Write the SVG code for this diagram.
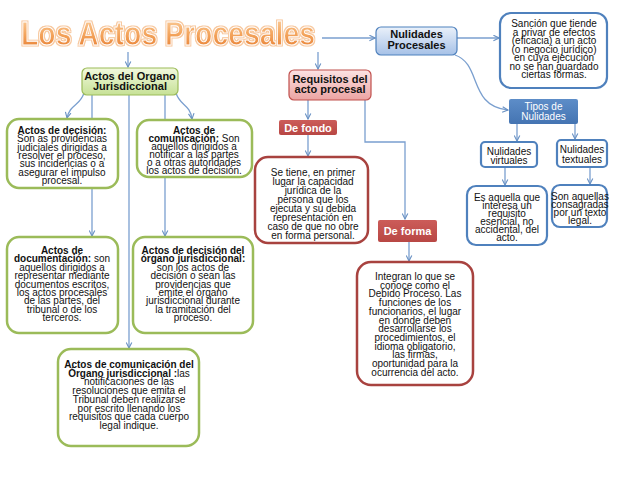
<svg xmlns="http://www.w3.org/2000/svg" width="638" height="493" viewBox="0 0 638 493">
<defs>
<linearGradient id="gOrange" x1="0" y1="0" x2="0" y2="1"><stop offset="0" stop-color="#fcd6a8"/><stop offset="0.5" stop-color="#f4a65f"/><stop offset="1" stop-color="#e5792b"/></linearGradient>
<linearGradient id="gGreen" x1="0" y1="0" x2="0" y2="1"><stop offset="0" stop-color="#f2f9de"/><stop offset="1" stop-color="#c6e196"/></linearGradient>
<linearGradient id="gPink" x1="0" y1="0" x2="0" y2="1"><stop offset="0" stop-color="#fce3e3"/><stop offset="1" stop-color="#eca3a2"/></linearGradient>
<linearGradient id="gBlue" x1="0" y1="0" x2="0" y2="1"><stop offset="0" stop-color="#eaf1fa"/><stop offset="1" stop-color="#a6c1e7"/></linearGradient>
<linearGradient id="gBlueDark" x1="0" y1="0" x2="0" y2="1"><stop offset="0" stop-color="#5d8dc8"/><stop offset="1" stop-color="#4474b2"/></linearGradient>
<linearGradient id="gRed" x1="0" y1="0" x2="0" y2="1"><stop offset="0" stop-color="#cc5c59"/><stop offset="1" stop-color="#b84744"/></linearGradient>
<filter id="glow" x="-10%" y="-30%" width="120%" height="160%">
<feMorphology in="SourceAlpha" operator="dilate" radius="1.3" result="d"/>
<feFlood flood-color="#f7c79c"/>
<feComposite in2="d" operator="in" result="o"/>
<feMerge><feMergeNode in="o"/><feMergeNode in="SourceGraphic"/></feMerge>
</filter>
<marker id="arr" viewBox="0 0 10 10" refX="9" refY="5" markerWidth="7" markerHeight="7" markerUnits="userSpaceOnUse" orient="auto">
<path d="M1,1 L9,5 L1,9" fill="none" stroke="#6a92c4" stroke-width="1.6"/>
</marker>
<style>
text{font-family:"Liberation Sans",Arial,sans-serif;fill:#111;text-anchor:middle}
.t{font-size:10px}
.h{font-size:11px;font-weight:bold}
.b{font-weight:bold}
.w{fill:#fff}
.con{fill:none;stroke:#7a9fcf;stroke-width:1.3}
.green{fill:#fff;stroke:#9bbb59;stroke-width:2.5}
.red{fill:#fff;stroke:#a8423f;stroke-width:2.5}
.blue{fill:#fff;stroke:#4f81bd;stroke-width:2.2}
</style>
</defs>
<rect width="638" height="493" fill="#fff"/>

<g id="title">
<text x="21" y="45" font-size="33" font-weight="bold" textLength="294" lengthAdjust="spacingAndGlyphs" style="text-anchor:start;fill:url(#gOrange);stroke:#fff;stroke-width:0.9" filter="url(#glow)">Los Actos Procesales</text>
</g>

<g id="connectors">
<path class="con" d="M322,38 H375" marker-end="url(#arr)"/>
<path class="con" d="M128,52 V67" marker-end="url(#arr)"/>
<path class="con" d="M318,52 V69" marker-end="url(#arr)"/>
<path class="con" d="M84,93 C80,106 70,104 67,118" marker-end="url(#arr)"/>
<path class="con" d="M176,93 C180,106 190,104 192,119" marker-end="url(#arr)"/>
<path class="con" d="M92,95 V236" marker-end="url(#arr)"/>
<path class="con" d="M165,95 V236" marker-end="url(#arr)"/>
<path class="con" d="M129,95 V348" marker-end="url(#arr)"/>
<path class="con" d="M308,100 V119" marker-end="url(#arr)"/>
<path class="con" d="M308,135 V156" marker-end="url(#arr)"/>
<path class="con" d="M365,100 V142 H405 V219" marker-end="url(#arr)"/>
<path class="con" d="M409,242 V261" marker-end="url(#arr)"/>
<path class="con" d="M457,38 H499" marker-end="url(#arr)"/>
<path class="con" d="M455,55 C482,64 468,106 508,110" marker-end="url(#arr)"/>
<path class="con" d="M517,124 V141" marker-end="url(#arr)"/>
<path class="con" d="M575,124 V139" marker-end="url(#arr)"/>
<path class="con" d="M505,167 V185" marker-end="url(#arr)"/>
<path class="con" d="M590,167 V184" marker-end="url(#arr)"/>
</g>

<g id="organo">
<rect x="82" y="68" width="96" height="27" rx="5" fill="url(#gGreen)" stroke="#9bbb59" stroke-width="1.2"/>
<text class="h" x="130" y="80">Actos del Organo</text>
<text class="h" x="130" y="90">Jurisdiccional</text>
</g>

<g id="decision">
<rect class="green" x="7" y="119" width="111" height="69" rx="12"/>
<text class="t" x="62" y="134"><tspan class="b">Actos de decisión:</tspan></text>
<text class="t" x="62" y="142.3">Son as providencias</text>
<text class="t" x="62" y="150.6">judiciales dirigidas a</text>
<text class="t" x="62" y="158.9">resolver el proceso,</text>
<text class="t" x="62" y="167.2">sus incidencias o a</text>
<text class="t" x="62" y="175.5">asegurar el impulso</text>
<text class="t" x="62" y="183.8">procesal.</text>
</g>

<g id="comunicacion">
<rect class="green" x="137" y="120" width="115" height="57" rx="12"/>
<text class="t" x="194" y="134"><tspan class="b">Actos de</tspan></text>
<text class="t" x="194" y="142"><tspan class="b">comunicación:</tspan> Son</text>
<text class="t" x="194" y="150">aquellos dirigidos a</text>
<text class="t" x="194" y="158">notificar a las partes</text>
<text class="t" x="194" y="166">o a otras autoridades</text>
<text class="t" x="194" y="174">los actos de decisión.</text>
</g>

<g id="documentacion">
<rect class="green" x="7" y="237" width="111" height="96" rx="12"/>
<text class="t" x="62" y="254"><tspan class="b">Actos de</tspan></text>
<text class="t" x="62" y="262.4"><tspan class="b">documentación:</tspan> son</text>
<text class="t" x="62" y="270.8">aquellos dirigidos a</text>
<text class="t" x="62" y="279.2">representar mediante</text>
<text class="t" x="62" y="287.6">documentos escritos,</text>
<text class="t" x="62" y="296">los actos procesales</text>
<text class="t" x="62" y="304.4">de las partes, del</text>
<text class="t" x="62" y="312.8">tribunal o de los</text>
<text class="t" x="62" y="321.2">terceros.</text>
</g>

<g id="decisionOrgano">
<rect class="green" x="133" y="237" width="120" height="96" rx="12"/>
<text class="t" x="193" y="254"><tspan class="b">Actos de decisión del</tspan></text>
<text class="t" x="193" y="262.4"><tspan class="b">órgano jurisdiccional:</tspan></text>
<text class="t" x="193" y="270.8">son los actos de</text>
<text class="t" x="193" y="279.2">decisión o sean las</text>
<text class="t" x="193" y="287.6">providencias que</text>
<text class="t" x="193" y="296">emite el órgano</text>
<text class="t" x="193" y="304.4">jurisdiccional durante</text>
<text class="t" x="193" y="312.8">la tramitación del</text>
<text class="t" x="193" y="321.2">proceso.</text>
</g>

<g id="comunicacionOrgano">
<rect class="green" x="58" y="349" width="141" height="97" rx="13"/>
<text class="t" x="129" y="368"><tspan class="b">Actos de comunicación del</tspan></text>
<text class="t" x="129" y="376.7"><tspan class="b">Órgano jurisdiccional :</tspan>las</text>
<text class="t" x="129" y="385.4">notificaciones de las</text>
<text class="t" x="129" y="394.1">resoluciones que emita el</text>
<text class="t" x="129" y="402.8">Tribunal deben realizarse</text>
<text class="t" x="129" y="411.5">por escrito llenando los</text>
<text class="t" x="129" y="420.2">requisitos que cada cuerpo</text>
<text class="t" x="129" y="428.9">legal indique.</text>
</g>

<g id="requisitos">
<rect x="289" y="70" width="82" height="30" rx="5" fill="url(#gPink)" stroke="#c0504d" stroke-width="1.2"/>
<text class="h" x="330" y="83">Requisitos del</text>
<text class="h" x="330" y="93">acto procesal</text>
</g>

<g id="deFondo">
<rect x="279" y="120" width="58" height="15" rx="2" fill="url(#gRed)"/>
<text class="h w" x="308" y="131.5">De fondo</text>
</g>

<g id="seTiene">
<rect class="red" x="255" y="157" width="113" height="86" rx="13"/>
<text class="t" x="313" y="176">Se tiene, en primer</text>
<text class="t" x="313" y="185">lugar la capacidad</text>
<text class="t" x="313" y="194">jurídica de la</text>
<text class="t" x="313" y="203">persona que los</text>
<text class="t" x="313" y="212">ejecuta y su debida</text>
<text class="t" x="313" y="221">representación en</text>
<text class="t" x="313" y="230">caso de que no obre</text>
<text class="t" x="313" y="239">en forma personal.</text>
</g>

<g id="deForma">
<rect x="378" y="220" width="59" height="22" rx="2" fill="url(#gRed)"/>
<text class="h w" x="407.5" y="235">De forma</text>
</g>

<g id="integran">
<rect class="red" x="357" y="262" width="116" height="123" rx="14"/>
<text class="t" x="415" y="280">Integran lo que se</text>
<text class="t" x="415" y="288.7">conoce como el</text>
<text class="t" x="415" y="297.4">Debido Proceso. Las</text>
<text class="t" x="415" y="306.1">funciones de los</text>
<text class="t" x="415" y="314.8">funcionarios, el lugar</text>
<text class="t" x="415" y="323.5">en donde deben</text>
<text class="t" x="415" y="332.2">desarrollarse los</text>
<text class="t" x="415" y="340.9">procedimientos, el</text>
<text class="t" x="415" y="349.6">idioma obligatorio,</text>
<text class="t" x="415" y="358.3">las firmas,</text>
<text class="t" x="415" y="367">oportunidad para la</text>
<text class="t" x="415" y="375.7">ocurrencia del acto.</text>
</g>

<g id="nulidades">
<rect x="376" y="27" width="81" height="28" rx="5" fill="url(#gBlue)" stroke="#4f81bd" stroke-width="1.2"/>
<text class="h" x="416.5" y="38">Nulidades</text>
<text class="h" x="416.5" y="49">Procesales</text>
</g>

<g id="sancion">
<rect class="blue" x="500" y="13" width="107" height="75" rx="11"/>
<text class="t" x="554" y="27">Sanción que tiende</text>
<text class="t" x="554" y="35.5">a privar de efectos</text>
<text class="t" x="554" y="44">(eficacia) a un acto</text>
<text class="t" x="554" y="52.5">(o negocio jurídico)</text>
<text class="t" x="554" y="61">en cuya ejecución</text>
<text class="t" x="554" y="69.5">no se han guardado</text>
<text class="t" x="554" y="78">ciertas formas.</text>
</g>

<g id="tipos">
<rect x="509" y="99" width="69" height="25" rx="2" fill="url(#gBlueDark)"/>
<text class="t w" x="543.5" y="110">Tipos de</text>
<text class="t w" x="543.5" y="119.5">Nulidades</text>
</g>

<g id="virtuales">
<rect class="blue" x="481" y="142" width="56" height="25" rx="4" stroke-width="1.5"/>
<text class="t" x="509" y="154.5">Nulidades</text>
<text class="t" x="509" y="164">virtuales</text>
</g>

<g id="textuales">
<rect class="blue" x="557" y="140" width="50" height="27" rx="4" stroke-width="1.5"/>
<text class="t" x="582" y="153">Nulidades</text>
<text class="t" x="582" y="162.5">textuales</text>
</g>

<g id="esAquella">
<rect class="blue" x="467" y="186" width="80" height="59" rx="9"/>
<text class="t" x="507" y="201">Es aquella que</text>
<text class="t" x="507" y="209">interesa un</text>
<text class="t" x="507" y="217">requisito</text>
<text class="t" x="507" y="225">esencial, no</text>
<text class="t" x="507" y="233">accidental, del</text>
<text class="t" x="507" y="241">acto.</text>
</g>

<g id="sonAquellas">
<rect class="blue" x="552" y="185" width="55" height="42" rx="8"/>
<text class="t" x="580" y="200">Son aquellas</text>
<text class="t" x="580" y="208">consagradas</text>
<text class="t" x="580" y="216">por un texto</text>
<text class="t" x="580" y="224">legal.</text>
</g>
</svg>
